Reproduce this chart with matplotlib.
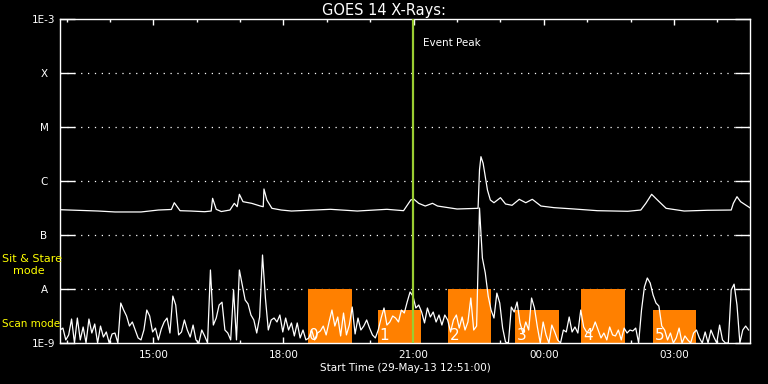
import numpy as np
import pandas as pd
import matplotlib
matplotlib.use('Agg')
import matplotlib.pyplot as plt
import matplotlib.dates as mdates
import matplotlib.transforms as mtransforms

start = pd.Timestamp('2013-05-29 12:51:00')
end = start + pd.Timedelta(minutes=954)
event_peak = pd.Timestamp('2013-05-29 20:59:00')

# long channel (1-8 A), minutes after start / flux in 1e-7 W/m^2
long_min = [0, 53, 76, 112, 136, 154, 158, 166, 181, 200, 209, 211, 216, 223,
            235, 241, 245, 248, 253, 265, 277, 281, 282, 286, 293, 306, 320,
            374, 411, 452, 475, 485, 489, 496, 505, 515, 522, 549, 578, 580,
            582, 585, 591, 595, 600, 609, 616, 625, 635, 644, 653, 665, 683,
            711, 743, 785, 803, 810, 818, 826, 838, 863, 895, 928, 931, 936,
            941, 955]
long_val = [2.94, 2.78, 2.67, 2.67, 2.90, 2.97, 3.96, 2.82, 2.78, 2.70, 2.78,
            4.78, 2.99, 2.72, 2.90, 3.86, 3.34, 5.67, 4.14, 3.86, 3.44, 3.34,
            7.11, 4.45, 3.12, 2.90, 2.78, 2.99, 2.78, 2.99, 2.82, 4.45, 4.64,
            3.86, 3.44, 3.86, 3.44, 3.03, 3.12, 16.0, 28.2, 21.3, 6.81, 4.45,
            3.96, 4.91, 3.75, 3.55, 4.58, 3.96, 4.58, 3.44, 3.21, 3.03, 2.82,
            2.75, 2.90, 3.86, 5.67, 4.45, 3.12, 2.78, 2.87, 2.90, 3.86, 5.12,
            4.14, 3.12]

# short channel (0.5-4 A), one value every 4 minutes, flux in 1e-9 W/m^2
short_min = np.arange(0, 956, 4)
short_val = [1.74, 1.89, 1.14, 1.41, 2.78, 1.0, 2.9, 1.14, 1.98, 1.0, 2.78,
             1.53, 2.25, 1.0, 2.06, 1.29, 1.6, 1.0, 1.47, 1.53, 1.0,
             5.5, 4.08, 3.16, 2.06, 2.45, 1.74, 1.24,
             1.14, 1.74, 4.08, 3.16, 1.6, 1.89, 1.14,
             1.81, 2.45, 2.9, 1.53,
             7.4, 5.05, 1.41,
             1.6, 2.67, 1.74, 1.29, 2.15, 1.14, 1.0, 1.74, 1.35, 1.0,
             22.5, 2.15, 2.9, 5.05, 5.7, 1.74, 1.53, 1.14,
             9.6, 1.14, 22.5, 11.8, 6.25, 5.3, 3.3, 2.67, 1.53, 3.03, 42.6,
             6.81, 1.74, 2.67, 2.9,
             2.45, 3.3, 1.6, 2.9, 1.74, 2.35, 1.35, 2.35, 1.24, 1.74, 1.14,
             1.24, 1.74, 1.14, 1.53, 1.67, 2.06, 1.41, 2.45, 4.08, 2.06, 3.03,
             1.35, 3.59, 1.41, 2.15,
             4.64, 1.47, 2.9, 1.74, 2.06, 2.67, 1.89, 1.41, 1.24,
             1.74, 2.9, 4.45, 2.15, 2.45, 3.16, 2.9, 2.45, 4.08, 3.59,
             5.75, 8.8, 7.4, 4.45, 5.05, 3.75, 2.35, 4.45, 3.03, 3.75, 2.45, 3.3,
             2.15, 3.3, 2.67, 1.6, 2.67, 3.3, 1.89, 3.03, 1.74, 2.45, 6.81,
             1.74, 2.06,
             316, 37.5, 19.8, 7.4, 4.08, 2.9, 8.4, 5.5,
             1.89, 1.04, 1.0, 4.64, 3.75, 5.75, 2.35, 1.53, 2.45, 1.74,
             6.81, 4.45, 1.98, 1.0, 2.45, 1.41, 1.0, 2.15, 1.6, 1.14,
             1.0, 1.74, 1.6, 3.03, 1.6, 1.98, 1.53,
             4.08, 1.98, 1.6, 1.53, 1.74, 2.45, 1.74, 1.24, 1.53, 1.14, 1.98,
             1.41, 1.35, 1.74, 1.14,
             1.89, 1.53, 1.74, 1.67, 1.89,
             1.0, 4.08, 10.9, 16.0, 12.9, 7.74, 5.5, 4.84, 2.06,
             1.74, 1.14, 1.53, 1.0, 1.24, 1.89, 1.0, 1.35, 1.14, 1.0, 1.53,
             1.74, 1.24, 1.0, 1.6, 1.0, 1.74, 1.29, 1.0, 2.15, 1.14, 1.0, 1.0,
             9.6, 12.3, 5.05, 1.0, 1.74, 2.06, 1.74]

# IRIS observation blocks
obs_start = ['2013-05-29 18:34', '2013-05-29 20:11', '2013-05-29 21:48',
             '2013-05-29 23:20', '2013-05-30 00:52', '2013-05-30 02:31']
obs_end = ['2013-05-29 19:35', '2013-05-29 21:10', '2013-05-29 22:47',
           '2013-05-30 00:21', '2013-05-30 01:52', '2013-05-30 03:30']
obs_top = [1e-8, 4.1e-9, 1e-8, 4.1e-9, 1e-8, 4.1e-9]
obs_label = ['0', '1', '2', '3', '4', '5']

levels = [1e-9, 1e-8, 1e-7, 1e-6, 1e-5, 1e-4, 1e-3]
level_names = ['1E-9', 'A', 'B', 'C', 'M', 'X', '1E-3']

long_t = (start + pd.to_timedelta(long_min, unit='m')).to_numpy()
short_t = (start + pd.to_timedelta(short_min, unit='m')).to_numpy()
long_flux = np.array(long_val) * 1e-7
short_flux = np.array(short_val) * 1e-9

fig = plt.figure(figsize=(7.68, 3.84), dpi=100, facecolor='black')
ax = fig.add_axes([60/768, 41/384, 690/768, 324/384])
ax.set_facecolor('black')
ax.set_yscale('log')

s_num = mdates.date2num(pd.to_datetime(obs_start))
e_num = mdates.date2num(pd.to_datetime(obs_end))
ax.bar(s_num, np.array(obs_top) - 1e-9, width=e_num - s_num, bottom=1e-9,
       align='edge', color='#ff8000', zorder=2)
for s, lbl in zip(s_num, obs_label):
    ax.annotate(lbl, xy=(s, 1e-9), xytext=(1, 0), textcoords='offset points',
                ha='left', va='bottom', color='white', fontsize=11, zorder=4)

for lev in levels[1:-1]:
    ax.axhline(lev, color='white', lw=0.9, ls=(0, (1, 4.5)), zorder=1)

ax.plot(long_t, long_flux, color='white', lw=0.9, zorder=3)
ax.plot(short_t, short_flux, color='white', lw=0.9, zorder=3)

ax.axvline(event_peak, color='#9acd32', lw=1.6, zorder=5)
ax.annotate('Event Peak', xy=(mdates.date2num(event_peak), 0.926),
            xycoords=('data', 'axes fraction'), xytext=(7, 0),
            textcoords='offset points', va='center', color='white', fontsize=7.5)

ax.set_xlim(start, end)
ax.set_ylim(1e-9, 1e-3)

ax.set_yticks(levels, level_names)
ax.yaxis.set_minor_locator(matplotlib.ticker.NullLocator())
for t in ax.get_yticklabels():
    t.set_horizontalalignment('center')
ax.tick_params(axis='y', which='major', direction='in', length=10.8, width=1,
               right=True, colors='white', labelsize=7.5, pad=11.5)

ax.xaxis.set_major_locator(mdates.HourLocator(byhour=[0, 3, 6, 9, 12, 15, 18, 21]))
ax.xaxis.set_minor_locator(mdates.HourLocator())
ax.xaxis.set_major_formatter(mdates.DateFormatter('%H:%M'))
ax.tick_params(axis='x', which='major', direction='in', length=4.3, width=1,
               top=True, colors='white', labelsize=7.5, pad=5)
ax.tick_params(axis='x', which='minor', direction='in', length=2.5, width=1,
               top=True, colors='white')

for sp in ax.spines.values():
    sp.set_color('white')
    sp.set_linewidth(1)

ax.set_xlabel('Start Time (29-May-13 12:51:00)', color='white', fontsize=7.5,
              labelpad=2)
fig.text(0.5, 1 - 10/384, 'GOES 14 X-Rays:', ha='center', va='center',
         color='white', fontsize=10.5)

trans = mtransforms.blended_transform_factory(fig.transFigure, ax.transData)
ax.text(2/768, 3.6e-8, 'Sit & Stare', transform=trans, color='yellow',
        fontsize=8, ha='left', va='center')
ax.text(13/768, 2.15e-8, 'mode', transform=trans, color='yellow',
        fontsize=8, ha='left', va='center')
ax.text(2/768, 2.25e-9, 'Scan mode', transform=trans, color='yellow',
        fontsize=7.5, ha='left', va='center')

fig.savefig('out.png', dpi=100, facecolor='black')
